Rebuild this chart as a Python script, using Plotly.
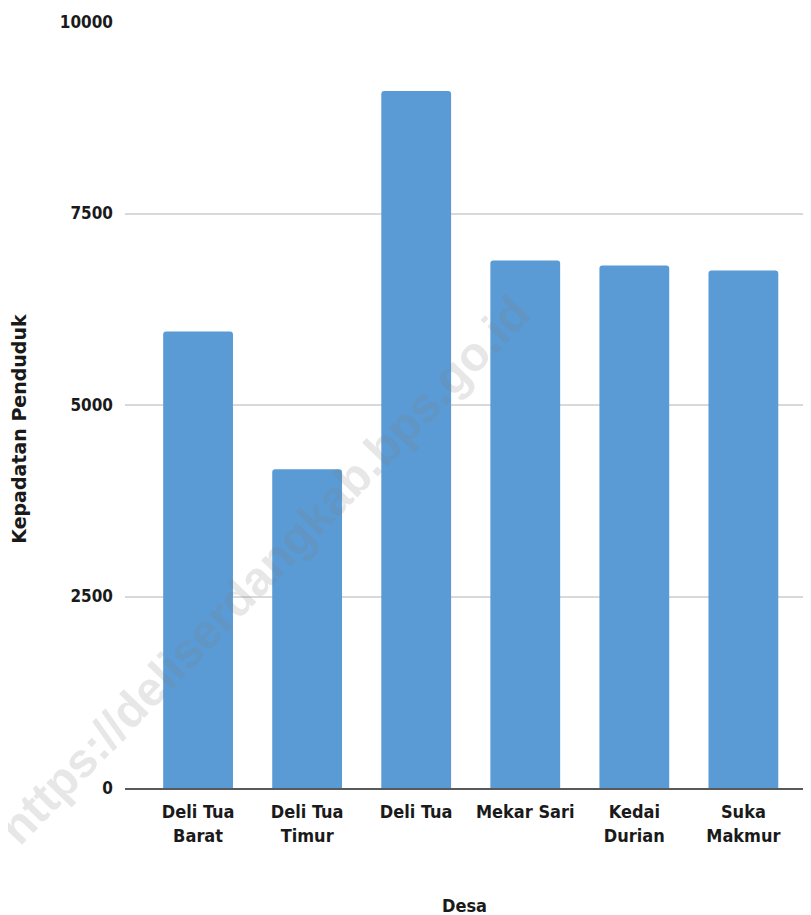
import plotly.graph_objects as go

desa = ["Deli Tua Barat", "Deli Tua Timur", "Deli Tua", "Mekar Sari", "Kedai Durian", "Suka Makmur"]
tick_labels = ["Deli Tua<br>Barat", "Deli Tua<br>Timur", "Deli Tua", "Mekar Sari", "Kedai<br>Durian", "Suka<br>Makmur"]
kepadatan = [5960, 4160, 9100, 6885, 6820, 6755]
y_ticks = [0, 2500, 5000, 7500, 10000]

label_font = "DejaVu Sans Condensed, Liberation Sans Narrow, sans-serif"

fig = go.Figure(
    go.Bar(
        x=desa,
        y=kepadatan,
        marker=dict(color="#5B9BD5", cornerradius=3, line=dict(width=0)),
        width=0.64,
        hoverinfo="x+y",
    )
)

# page body has an 8px default margin; compensate so plot sits where the reference has it
fig.update_layout(
    width=803,
    height=907,
    margin=dict(l=117, r=0, t=14, b=127),
    paper_bgcolor="white",
    plot_bgcolor="white",
    showlegend=False,
    font=dict(family=label_font, color="#1a1a1a"),
)

fig.update_xaxes(
    tickmode="array",
    tickvals=desa,
    ticktext=tick_labels,
    range=[-0.67, 5.62],
    showline=True,
    linecolor="#595959",
    linewidth=1.5,
    showgrid=False,
    ticks="",
    ticklabelstandoff=7,
    tickfont=dict(family=label_font, size=18, color="#1a1a1a", weight="bold"),
)

fig.update_yaxes(
    range=[0, 10000],
    tickmode="array",
    tickvals=y_ticks,
    ticktext=[str(v) for v in y_ticks],
    showgrid=True,
    gridcolor="#d9d9d9",
    gridwidth=1.5,
    zeroline=False,
    ticks="",
    ticklabelstandoff=11,
    tickfont=dict(family=label_font, size=17, color="#1a1a1a", weight="bold"),
)

fig.add_annotation(
    text="Kepadatan Penduduk",
    xref="paper", yref="paper",
    x=-0.1545, y=0.469,
    xanchor="center", yanchor="middle",
    textangle=-90,
    showarrow=False,
    font=dict(family="DejaVu Sans, sans-serif", size=19, color="#1a1a1a", weight="bold"),
)

fig.add_annotation(
    text="Desa",
    xref="paper", yref="paper",
    x=0.4956, y=-0.153,
    xanchor="center", yanchor="middle",
    showarrow=False,
    font=dict(family=label_font, size=18, color="#1a1a1a", weight="bold"),
)

fig.add_annotation(
    text="https://deliserdangkab.bps.go.id",
    xref="paper", yref="paper",
    x=0.204, y=0.285,
    xanchor="center", yanchor="middle",
    textangle=-46,
    showarrow=False,
    font=dict(family="Liberation Sans, Arial, sans-serif", size=48, color="rgba(120,120,120,0.18)", weight="bold"),
)

fig.write_html("out.html")
